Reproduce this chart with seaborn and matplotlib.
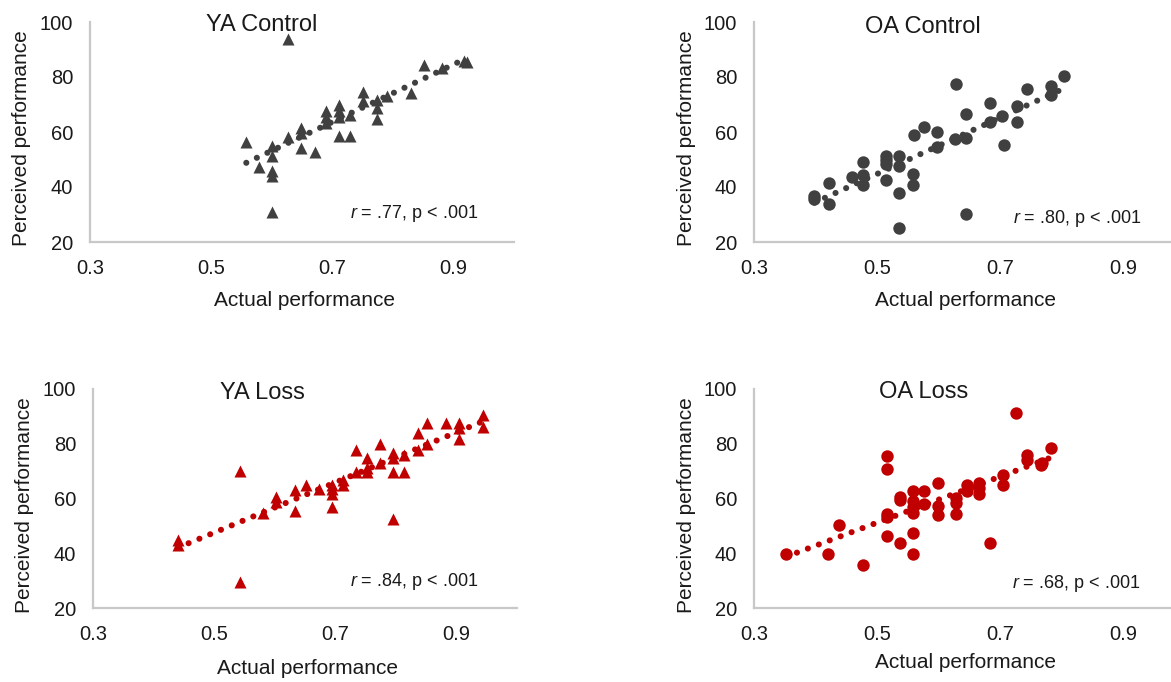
import matplotlib
matplotlib.use("Agg")
import matplotlib.pyplot as plt
import numpy as np
import pandas as pd
import seaborn as sns

# ---------------- data ----------------
ya_control_x = [0.627, 0.558, 0.579, 0.601, 0.601, 0.601, 0.601, 0.601, 0.627, 0.649, 0.649,
                0.649, 0.671, 0.689, 0.689, 0.689, 0.711, 0.711, 0.711, 0.711, 0.729, 0.729,
                0.751, 0.751, 0.773, 0.773, 0.773, 0.791, 0.830, 0.852, 0.881, 0.922, 0.918]
ya_control_y = [94.0, 56.4, 47.4, 55.0, 51.1, 46.0, 44.1, 30.9, 58.2, 61.3, 59.5,
                54.3, 52.9, 67.8, 65.4, 63.4, 70.0, 67.6, 65.4, 58.6, 58.6, 66.3,
                74.5, 71.4, 71.8, 68.8, 64.6, 73.0, 74.2, 84.4, 83.2, 85.3, 86.0]

oa_control_x = [0.398, 0.398, 0.422, 0.422, 0.459, 0.477, 0.477, 0.477, 0.515, 0.515, 0.515,
                0.515, 0.536, 0.536, 0.536, 0.536, 0.558, 0.558, 0.560, 0.576, 0.597, 0.597,
                0.627, 0.628, 0.645, 0.645, 0.645, 0.684, 0.684, 0.703, 0.706, 0.727, 0.727,
                0.744, 0.783, 0.783, 0.804]
oa_control_y = [36.8, 35.6, 41.5, 33.9, 43.5, 49.1, 44.5, 40.8, 51.1, 50.0, 48.5,
                42.6, 51.1, 47.5, 38.0, 25.0, 44.7, 40.8, 59.0, 61.9, 59.9, 54.6,
                57.5, 77.3, 66.6, 57.8, 30.1, 70.6, 63.8, 65.7, 55.2, 69.4, 63.7,
                75.5, 76.7, 73.6, 80.3]

ya_loss_x = [0.440, 0.440, 0.542, 0.542, 0.581, 0.602, 0.602, 0.633, 0.633, 0.651, 0.673,
             0.695, 0.695, 0.695, 0.695, 0.713, 0.713, 0.735, 0.735, 0.752, 0.752, 0.752,
             0.773, 0.773, 0.795, 0.795, 0.795, 0.795, 0.813, 0.813, 0.836, 0.836, 0.852,
             0.852, 0.883, 0.905, 0.905, 0.905, 0.944, 0.944]
ya_loss_y = [44.8, 43.0, 70.1, 29.6, 54.6, 60.4, 58.9, 63.1, 55.4, 64.9, 63.4,
             64.9, 63.4, 61.6, 56.8, 66.8, 65.0, 77.7, 69.8, 74.8, 71.1, 69.8,
             79.8, 72.9, 76.5, 74.9, 69.8, 52.4, 75.9, 69.8, 83.8, 77.7, 87.7,
             79.8, 87.5, 87.7, 85.6, 81.7, 90.5, 86.2]

oa_loss_x = [0.352, 0.421, 0.439, 0.478, 0.516, 0.516, 0.516, 0.516, 0.516, 0.538, 0.538,
             0.538, 0.559, 0.559, 0.559, 0.559, 0.559, 0.559, 0.576, 0.576, 0.599, 0.599,
             0.599, 0.628, 0.628, 0.628, 0.646, 0.646, 0.666, 0.666, 0.666, 0.684, 0.705,
             0.705, 0.726, 0.744, 0.744, 0.766, 0.768, 0.783]
oa_loss_y = [39.6, 39.6, 50.3, 35.7, 75.5, 70.6, 54.3, 53.3, 46.4, 60.7, 59.3,
             43.7, 62.9, 59.2, 57.0, 54.8, 47.3, 39.7, 62.9, 58.0, 65.8, 57.3,
             54.0, 60.1, 58.3, 54.3, 65.0, 62.9, 65.8, 63.7, 61.6, 43.7, 68.6,
             65.0, 91.1, 75.9, 74.1, 72.3, 73.0, 78.4]

titles = ["YA Control", "OA Control", "YA Loss", "OA Loss"]
stats = [".77", ".80", ".84", ".68"]
x_ticks = [0.3, 0.5, 0.7, 0.9]
y_ticks = [20, 40, 60, 80, 100]

# ---------------- style ----------------
sns.set_style("white")
plt.rcParams["font.family"] = ["Liberation Sans", "DejaVu Sans"]
plt.rcParams["mathtext.fontset"] = "custom"
plt.rcParams["mathtext.rm"] = "Liberation Sans"
plt.rcParams["mathtext.it"] = "Liberation Sans:italic"

GRAY = "#404040"
RED = "#c00000"
TXT = "#1a1a1a"
SPINE = "#c8c8c8"

W, H = 1171, 682
fig = plt.figure(figsize=(W / 100, H / 100), dpi=100)

# panel geometry in pixels: left, top, right, bottom, xmax
panels = [
    (90, 22, 514, 242, 1.0),
    (754, 22, 1171, 242, 0.978),
    (93, 389, 517, 608, 1.0),
    (754, 389, 1171, 608, 0.978),
]

datasets = [
    (ya_control_x, ya_control_y, "^", GRAY),
    (oa_control_x, oa_control_y, "o", GRAY),
    (ya_loss_x, ya_loss_y, "^", RED),
    (oa_loss_x, oa_loss_y, "o", RED),
]

title_pos = [(0.584, 99.0), (0.575, 98.2), (0.579, 98.5), (0.575, 98.9)]
stat_pos = [(0.941, 30.5), (0.929, 28.4), (0.936, 29.5), (0.928, 29.1)]
xlabel_y = [-0.264, -0.264, -0.274, -0.247]

for i, ((l, t, r, b, xmax), (xs, ys, mk, col)) in enumerate(zip(panels, datasets)):
    ax = fig.add_axes([l / W, 1 - b / H, (r - l) / W, (b - t) / H])
    df = pd.DataFrame({"actual": xs, "perceived": ys})
    sns.regplot(data=df, x="actual", y="perceived", ax=ax, ci=None, scatter=False,
                truncate=True, color=col,
                line_kws=dict(linestyle=(0, (0.01, 1.9)), linewidth=4.4,
                              dash_capstyle="round"))
    sns.scatterplot(data=df, x="actual", y="perceived", ax=ax, marker=mk,
                    s=75 if mk == "^" else 80, color=col, linewidth=0, zorder=3)
    ax.set_xlim(0.3, xmax)
    ax.set_ylim(20, 100)
    ax.set_xticks(x_ticks)
    ax.set_xticklabels([f"{v:.1f}" for v in x_ticks])
    ax.set_yticks(y_ticks)
    ax.tick_params(axis="both", length=0, labelsize=14.5, colors=TXT)
    ax.tick_params(axis="y", pad=12)
    ax.tick_params(axis="x", pad=12)
    for s in ["top", "right"]:
        ax.spines[s].set_visible(False)
    for s in ["left", "bottom"]:
        ax.spines[s].set_color(SPINE)
        ax.spines[s].set_linewidth(1.6)
    ax.set_xlabel("Actual performance", fontsize=15, color=TXT)
    ax.set_ylabel("Perceived performance", fontsize=15, color=TXT)
    ax.xaxis.set_label_coords(0.507, xlabel_y[i])
    ax.xaxis.label.set_va("center")
    ax.yaxis.set_label_coords(-0.162, 0.47)
    ax.yaxis.label.set_va("center")
    tx, ty = title_pos[i]
    ax.text(tx, ty, titles[i], ha="center", va="center", fontsize=17, color=TXT,
            clip_on=False)
    sx, sy = stat_pos[i]
    ax.text(sx, sy, r"$\mathit{r}$ = " + stats[i] + ", p < .001", ha="right",
            va="center", fontsize=13, color=TXT)

fig.savefig("out.png", dpi=100)
